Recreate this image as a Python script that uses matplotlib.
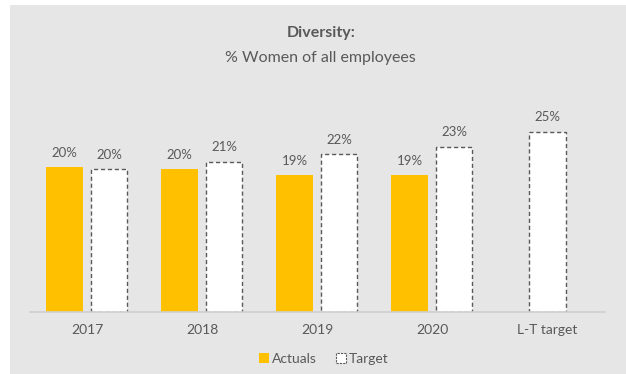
import numpy as np
import matplotlib.pyplot as plt
from matplotlib.patches import Rectangle, Patch

categorias = ['2017', '2018', '2019', '2020', 'L-T target']
actuals = [20.1, 19.8, 19.0, 19.0, np.nan]
target = [19.8, 20.9, 21.9, 22.9, 25.0]
etiq_actuals = ['20%', '20%', '19%', '19%', '']
etiq_target = ['20%', '21%', '22%', '23%', '25%']

plt.rcParams['font.family'] = ['Lato', 'DejaVu Sans']
gris_txt = '#595959'

fig = plt.figure(figsize=(6.26, 3.74), dpi=100)
fig.patch.set_facecolor('white')
fig.add_artist(Rectangle((10 / 626, 0), 1, 1 - 5 / 374, transform=fig.transFigure,
                         facecolor='#e6e6e6', edgecolor='none', zorder=0))

ax = fig.add_axes([30 / 626, 62 / 374, 575 / 626, 252 / 374])
ax.set_facecolor('none')

x = np.arange(len(categorias))
w = 0.315
off_a = np.array([-0.2] * 4 + [0])
off_t = np.array([0.19] * 4 + [0])

ax.bar(x + off_a, actuals, w, color='#ffc000', zorder=2)
ax.bar(x + off_t, target, w, color='white', edgecolor=gris_txt,
       linestyle=(0, (3, 2)), linewidth=1, zorder=2)

for i in range(len(categorias)):
    if not np.isnan(actuals[i]):
        ax.text(x[i] + off_a[i], actuals[i] + 1.2, etiq_actuals[i], ha='center',
                va='bottom', fontsize=9.5, color=gris_txt)
    ax.text(x[i] + off_t[i], target[i] + 1.2, etiq_target[i], ha='center',
            va='bottom', fontsize=9.5, color=gris_txt)

ax.set_xlim(-0.5, 4.5)
ax.set_ylim(0, 35)
ax.set_xticks(x)
ax.set_xticklabels(categorias, fontsize=10, color=gris_txt)
ax.tick_params(axis='x', length=0, pad=9)
ax.set_yticks([])
for s in ['top', 'right', 'left']:
    ax.spines[s].set_visible(False)
ax.spines['bottom'].set_color('#cfcfcf')
ax.spines['bottom'].set_linewidth(1.2)

fig.text(321 / 626, 1 - 37 / 374, 'Diversity:', ha='center', va='baseline',
         fontsize=11.5, fontweight='bold', color=gris_txt)
fig.text(320 / 626, 1 - 62 / 374, '% Women of all employees', ha='center',
         va='baseline', fontsize=11.5, color=gris_txt)

handles = [Patch(facecolor='#ffc000', edgecolor='none', label='Actuals'),
           Patch(facecolor='white', edgecolor=gris_txt, linestyle=(0, (2, 1)),
                 linewidth=0.8, label='Target')]
fig.legend(handles=handles, loc='center', bbox_to_anchor=(324 / 626, 1 - 359 / 374),
           ncol=2, frameon=False, fontsize=10, handlelength=0.7, handleheight=0.7,
           handletextpad=0.2, columnspacing=1.4, labelcolor=gris_txt)

fig.savefig('out.png', dpi=100)
